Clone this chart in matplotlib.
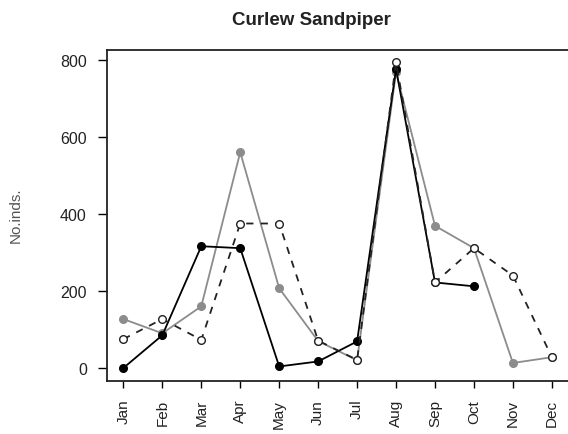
import numpy as np
import matplotlib
matplotlib.use("Agg")
import matplotlib.pyplot as plt

plt.rcParams["font.family"] = ["Liberation Sans", "DejaVu Sans"]

months = ["Jan", "Feb", "Mar", "Apr", "May", "Jun",
          "Jul", "Aug", "Sep", "Oct", "Nov", "Dec"]
# three survey series
black_vals = [0, 85, 316, 311, 4, 17, 69, 776, 222, 212, np.nan, np.nan]
gray_vals = [127, 90, 160, 560, 207, 70, 20, 768, 369, 311, 13, 28]
open_vals = [75, 127, 73, 375, 375, 71, 21, 793, 222, 311, 240, 28]

x = np.arange(len(months))

fig = plt.figure(figsize=(5.68, 4.35), dpi=100)
ax = fig.add_axes([0.1884, 0.1225, 0.812, 0.760])

ax.plot(x, gray_vals, color="#8c8c8c", lw=1.3, marker="o", ms=5.5,
        mfc="#8c8c8c", mec="#8c8c8c", zorder=2)
ax.plot(x, black_vals, color="black", lw=1.3, marker="o", ms=5.5,
        mfc="black", mec="black", zorder=3)
ax.plot(x, open_vals, color="#222222", lw=1.3, ls=(0, (4, 4)), marker="o",
        ms=5.5, mfc="white", mec="#222222", mew=1.0, zorder=4)

ax.set_xlim(-0.42, 11.42)
ax.set_ylim(-33, 825)
ax.set_xticks(x)
ax.set_xticklabels(months, rotation=90, fontsize=11, color="#222222")
ax.set_yticks([0, 200, 400, 600, 800])
ax.tick_params(axis="y", labelsize=11.5, labelcolor="#222222", length=6.5,
               width=1.0, pad=8, direction="out")
ax.tick_params(axis="x", length=5, width=1.0, pad=8, direction="out")
ax.spines["right"].set_visible(False)
for s in ["left", "top", "bottom"]:
    ax.spines[s].set_linewidth(1.3)
    ax.spines[s].set_color("#222222")

fig.text(0.5475, 0.954, "Curlew Sandpiper", ha="center", va="center",
         fontsize=13.5, fontweight="bold", color="#222222")
fig.text(0.027, 0.506, "No.inds.", rotation=90, ha="center", va="center",
         fontsize=11, color="#555555")

fig.savefig("out.png", dpi=100)
